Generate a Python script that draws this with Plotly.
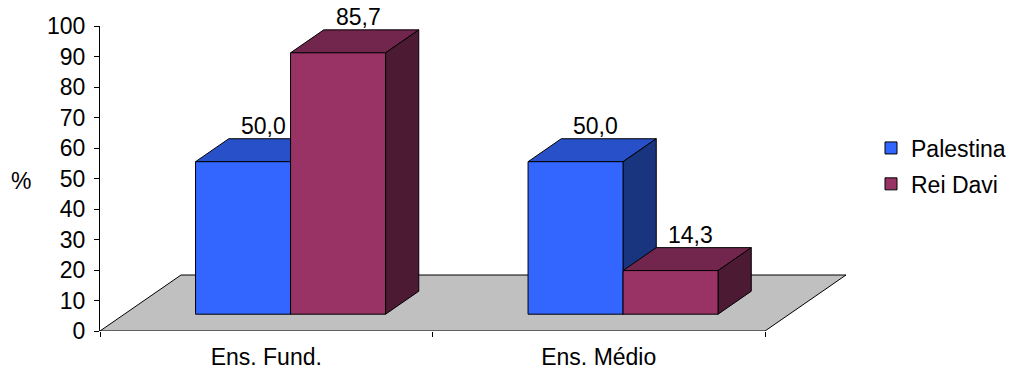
import plotly.graph_objects as go

# ---------------- data ----------------
categories = ["Ens. Fund.", "Ens. Médio"]
series_names = ["Palestina", "Rei Davi"]
palestina = [50.0, 50.0]
rei_davi = [85.7, 14.3]
y_tick_values = list(range(0, 101, 10))

# ---------------- styles ----------------
front_colors = ["#3366FF", "#993366"]
top_colors = ["#2850C8", "#73264D"]
side_colors = ["#1A3580", "#4D1A33"]
floor_color = "#C0C0C0"
FONT = "Liberation Sans, Arial, sans-serif"
FS = 23

W, H = 1022, 369
ml, mt, mb = 100, 26, 38
plot_w = 760
mr = W - ml - plot_w
plot_h = H - mt - mb
xpx = 665 / len(categories)          # pixels per category unit
ypx = plot_h / 100.0                 # pixels per percent unit

# depth geometry (pixels -> data units)
floor_dx, floor_dy = 81 / xpx, 56 / ypx
front_f, back_f = 0.30, 0.71
fx, fz = front_f * floor_dx, front_f * floor_dy
ddx, ddy = (back_f - front_f) * floor_dx, (back_f - front_f) * floor_dy
bar_w = 1 / 3.5
label_dx = 20 / xpx

series = [palestina, rei_davi]
n = len(categories)

fig = go.Figure()
shapes = []

def path(pts):
    return "M " + " L ".join(f"{x},{y}" for x, y in pts) + " Z"

# floor
shapes.append(dict(type="path", xref="x", yref="y", layer="below",
                   path=path([(0, 0), (n, 0), (n + floor_dx, floor_dy), (floor_dx, floor_dy)]),
                   fillcolor=floor_color, line=dict(color="black", width=1)))

annotations = []
for s, vals in enumerate(series):
    xs = [i + 0.5 for i in range(n)]
    off = -bar_w + s * bar_w + fx
    fig.add_trace(go.Bar(
        x=xs, y=vals, base=[fz] * n, width=bar_w, offset=off,
        name=series_names[s], legendgroup=series_names[s],
        marker=dict(color=front_colors[s], line=dict(color="black", width=1)),
        hoverinfo="skip",
    ))
    for i, v in enumerate(vals):
        xl = xs[i] + off
        xr = xl + bar_w
        top = fz + v
        shapes.append(dict(type="path", xref="x", yref="y", layer="below",
                           path=path([(xl, top), (xr, top), (xr + ddx, top + ddy), (xl + ddx, top + ddy)]),
                           fillcolor=top_colors[s], line=dict(color="black", width=1)))
        shapes.append(dict(type="path", xref="x", yref="y", layer="below",
                           path=path([(xr, fz), (xr, top), (xr + ddx, top + ddy), (xr + ddx, fz + ddy)]),
                           fillcolor=side_colors[s], line=dict(color="black", width=1)))
        annotations.append(dict(
            x=xl + bar_w / 2 + label_dx, y=top + ddy, xref="x", yref="y",
            text=f"{v:.1f}".replace(".", ","), showarrow=False,
            yanchor="bottom", xanchor="center", yshift=-2,
            font=dict(family=FONT, size=FS, color="black")))

annotations.append(dict(x=(21 - ml) / plot_w, y=(H - mb - 181) / plot_h, xref="paper", yref="paper",
                        text="%", showarrow=False, xanchor="center", yanchor="middle",
                        font=dict(family=FONT, size=FS, color="black")))

fig.update_layout(
    width=W, height=H, margin=dict(l=ml, r=mr, t=mt, b=mb, pad=0, autoexpand=False),
    plot_bgcolor="white", paper_bgcolor="white",
    barmode="overlay", shapes=shapes, annotations=annotations,
    font=dict(family=FONT, size=FS, color="black"),
    showlegend=True,
    legend=dict(x=(871 - ml) / plot_w, y=(H - mb - 166) / plot_h, xanchor="left", yanchor="middle",
                font=dict(family=FONT, size=FS, color="black"), tracegroupgap=3,
                bgcolor="rgba(0,0,0,0)"),
    xaxis=dict(range=[0, plot_w / xpx], showline=False, showgrid=False, zeroline=False,
               automargin=False,
               tickmode="array", tickvals=[i + 0.5 for i in range(n)], ticktext=categories,
               ticks="", ticklabelstandoff=10,
               minor=dict(tickmode="array", tickvals=list(range(n + 1)), ticks="outside",
                          ticklen=5, tickcolor="black", tickwidth=1, showgrid=False),
               fixedrange=True),
    yaxis=dict(range=[0, 100], showline=True, linecolor="black", linewidth=1, automargin=False,
               showgrid=False, zeroline=False, tickmode="array", tickvals=y_tick_values,
               ticks="outside", ticklen=5, tickcolor="black", ticklabelstandoff=4,
               fixedrange=True),
)

fig.write_html("out.html")
